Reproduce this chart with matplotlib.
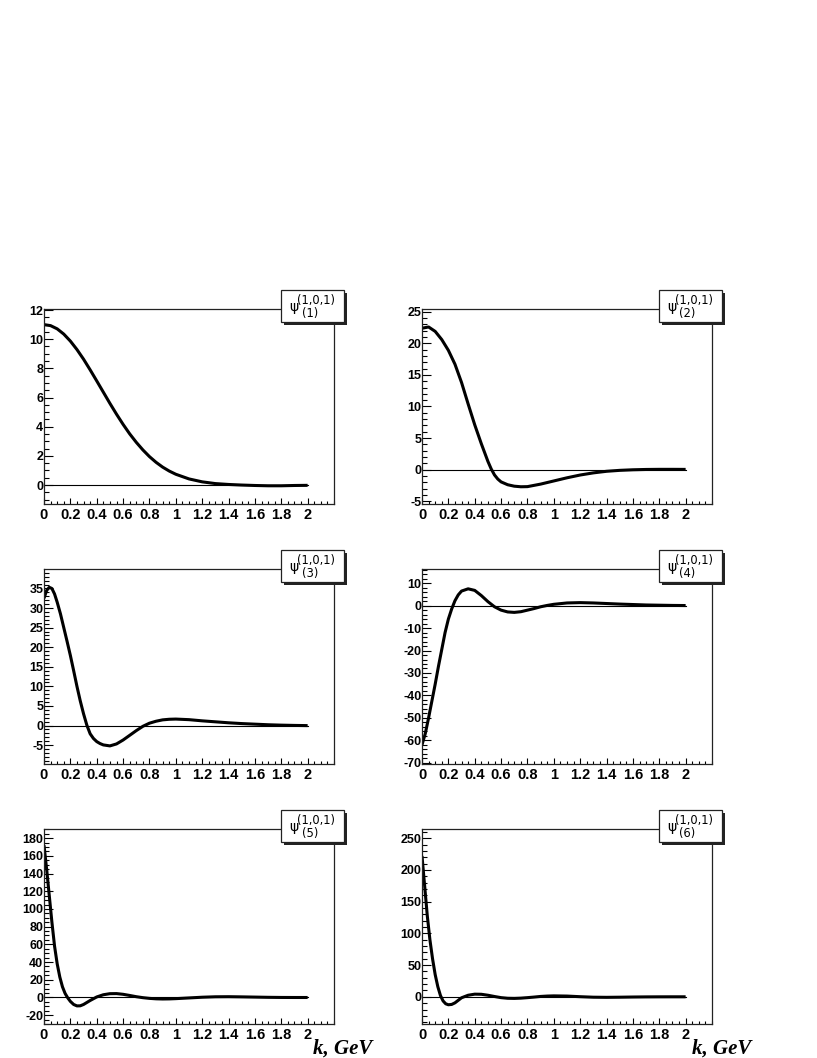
import numpy as np
import matplotlib
matplotlib.use("Agg")
import matplotlib.pyplot as plt
from matplotlib.patches import Rectangle
from matplotlib.ticker import MultipleLocator, FixedLocator, FormatStrFormatter

# psi^(1,0,1)_(n)(k), values
k1 = [0, 0.05, 0.1, 0.15, 0.2, 0.25, 0.3, 0.35, 0.4, 0.45, 0.5, 0.55, 0.6, 0.65,
      0.7, 0.75, 0.8, 0.85, 0.9, 0.95, 1.0, 1.1, 1.2, 1.3, 1.4, 1.5, 1.6, 1.7,
      1.8, 1.9, 2.0]
psi1 = [11.0, 10.93, 10.71, 10.35, 9.87, 9.29, 8.63, 7.90, 7.14, 6.37, 5.60,
        4.86, 4.16, 3.51, 2.93, 2.41, 1.95, 1.56, 1.23, 0.96, 0.74, 0.42, 0.22,
        0.10, 0.04, 0.0, -0.03, -0.05, -0.05, -0.03, -0.02]

k2 = [0, 0.05, 0.1, 0.15, 0.2, 0.25, 0.3, 0.35, 0.4, 0.45, 0.5, 0.525, 0.55,
      0.575, 0.6, 0.65, 0.7, 0.75, 0.8, 0.9, 1.0, 1.1, 1.2, 1.3, 1.4, 1.5, 1.6,
      1.7, 1.8, 1.9, 2.0]
psi2 = [22.4, 22.6, 21.9, 20.6, 18.9, 16.7, 13.8, 10.4, 7.1, 4.1, 1.3, 0.1,
        -0.85, -1.5, -1.95, -2.4, -2.63, -2.72, -2.7, -2.3, -1.8, -1.3, -0.86,
        -0.52, -0.27, -0.12, -0.03, 0.02, 0.04, 0.04, 0.03]

k3 = [0, 0.02, 0.04, 0.06, 0.08, 0.1, 0.125, 0.15, 0.175, 0.2, 0.225, 0.25,
      0.275, 0.3, 0.325, 0.35, 0.375, 0.4, 0.425, 0.45, 0.5, 0.55, 0.6, 0.65,
      0.7, 0.75, 0.8, 0.85, 0.9, 0.95, 1.0, 1.1, 1.2, 1.3, 1.4, 1.5, 1.6, 1.7,
      1.8, 1.9, 2.0]
psi3 = [32.5, 34.5, 35.3, 35.0, 33.6, 31.5, 28.5, 25.0, 21.5, 17.9, 14.0, 10.0,
        6.3, 3.0, 0.1, -2.1, -3.3, -4.1, -4.6, -4.95, -5.2, -4.7, -3.7, -2.5,
        -1.3, -0.2, 0.6, 1.1, 1.45, 1.6, 1.65, 1.5, 1.2, 0.95, 0.7, 0.5, 0.35,
        0.2, 0.1, 0.03, -0.02]

k4 = [0, 0.025, 0.05, 0.075, 0.1, 0.125, 0.15, 0.175, 0.2, 0.225, 0.25, 0.275,
      0.3, 0.35, 0.4, 0.45, 0.5, 0.55, 0.6, 0.65, 0.7, 0.75, 0.8, 0.85, 0.9,
      0.95, 1.0, 1.1, 1.2, 1.3, 1.4, 1.5, 1.6, 1.7, 1.8, 1.9, 2.0]
psi4 = [-62, -57, -50, -42.5, -35, -27, -19.5, -12, -6, -1.5, 2.2, 4.8, 6.5,
        7.5, 6.8, 4.5, 1.8, -0.5, -2.0, -2.8, -3.0, -2.7, -2.0, -1.3, -0.5, 0.1,
        0.6, 1.2, 1.35, 1.2, 0.95, 0.7, 0.5, 0.3, 0.2, 0.1, 0.05]

k5 = [0, 0.02, 0.04, 0.06, 0.08, 0.1, 0.12, 0.14, 0.16, 0.18, 0.2, 0.225, 0.25,
      0.275, 0.3, 0.35, 0.4, 0.45, 0.5, 0.55, 0.6, 0.65, 0.7, 0.75, 0.8, 0.85,
      0.9, 0.95, 1.0, 1.1, 1.2, 1.3, 1.4, 1.5, 1.6, 1.7, 1.8, 1.9, 2.0]
psi5 = [172, 145, 115, 85, 58, 38, 23, 12, 4.5, -0.5, -4.5, -8, -9.6, -9.5, -8,
        -3.5, 0.5, 3.0, 4.2, 4.3, 3.5, 2.2, 0.8, -0.3, -1.1, -1.6, -1.8, -1.7,
        -1.4, -0.6, 0.2, 0.7, 0.8, 0.6, 0.35, 0.1, -0.05, -0.1, -0.1]

k6 = [0, 0.02, 0.04, 0.06, 0.08, 0.1, 0.12, 0.14, 0.16, 0.18, 0.2, 0.225, 0.25,
      0.275, 0.3, 0.35, 0.4, 0.45, 0.5, 0.55, 0.6, 0.65, 0.7, 0.75, 0.8, 0.85,
      0.9, 0.95, 1.0, 1.1, 1.2, 1.3, 1.4, 1.5, 1.6, 1.7, 1.8, 1.9, 2.0]
psi6 = [222, 175, 128, 90, 60, 35, 16, 2, -6.5, -11, -12.5, -12, -9.5, -5.5,
        -1.5, 2.5, 4.2, 4.0, 2.5, 0.5, -1.3, -2.3, -2.5, -2.1, -1.3, -0.4, 0.6,
        1.2, 1.5, 1.2, 0.2, -0.6, -0.8, -0.6, -0.3, -0.1, 0.0, 0.05, 0.05]

labels = ["(1)", "(2)", "(3)", "(4)", "(5)", "(6)"]
x_ticks = [0, 0.2, 0.4, 0.6, 0.8, 1, 1.2, 1.4, 1.6, 1.8, 2]

W, H = 817, 1058


def fx(x):
    return x / W


def fy(y):
    return 1 - y / H


fig = plt.figure(figsize=(W / 100, H / 100), dpi=100)

# (k, psi, ymin, ymax, major, minor)
panels = [
    (k1, psi1, -1.32, 12.05, 2, 0.5),
    (k2, psi2, -5.5, 25.4, 5, 1),
    (k3, psi3, -9.9, 39.9, 5, 1),
    (k4, psi4, -70.7, 16.2, 10, 2),
    (k5, psi5, -30.4, 190, 20, 5),
    (k6, psi6, -43.3, 264, 50, 10),
]

for i, (k, psi, ymin, ymax, major, minor) in enumerate(panels):
    row, col = i // 2, i % 2
    left = 44 if col == 0 else 422
    top = 309.3 + 260 * row
    ax = fig.add_axes([fx(left), fy(top + 195), fx(290), 195 / H])

    ax.plot([0, 2], [0, 0], color="k", lw=0.8)
    ax.plot(k, psi, color="k", lw=2.2, solid_capstyle="butt",
            solid_joinstyle="round")

    ax.set_xlim(0, 2.2)
    ax.set_ylim(ymin, ymax)
    ax.xaxis.set_major_locator(FixedLocator(x_ticks))
    ax.xaxis.set_minor_locator(MultipleLocator(0.05))
    ax.xaxis.set_major_formatter(FormatStrFormatter("%g"))
    ax.yaxis.set_major_locator(MultipleLocator(major))
    ax.yaxis.set_minor_locator(MultipleLocator(minor))
    ax.yaxis.set_major_formatter(FormatStrFormatter("%g"))

    ax.tick_params(axis="x", which="major", direction="in", length=4.2, width=0.8,
                   pad=2.5, labelsize=10.5)
    ax.tick_params(axis="x", which="minor", direction="in", length=2.1, width=0.8)
    ax.tick_params(axis="y", which="major", direction="in", length=6.5, width=0.8,
                   pad=0.5, labelsize=9)
    ax.tick_params(axis="y", which="minor", direction="in", length=3.3, width=0.8)
    for lab in ax.get_xticklabels() + ax.get_yticklabels():
        lab.set_fontfamily("Liberation Sans")
        lab.set_fontweight("bold")
    for sp in ax.spines.values():
        sp.set_linewidth(0.9)
        sp.set_color("#222222")

    # legend box with shadow, ROOT style
    bl = 281 if col == 0 else 658.5
    bt = 290 + 260 * row
    bw, bh = 63, 32
    fig.patches.append(Rectangle((fx(bl + 3), fy(bt + bh + 3)), fx(bw), bh / H,
                                 transform=fig.transFigure, facecolor="#222222",
                                 edgecolor="none", zorder=5))
    fig.patches.append(Rectangle((fx(bl), fy(bt + bh)), fx(bw), bh / H,
                                 transform=fig.transFigure, facecolor="white",
                                 edgecolor="#222222", lw=0.9, zorder=6))
    fig.text(fx(bl + 8.5), fy(bt + 17), "ψ", fontsize=10, family="DejaVu Sans",
             ha="left", va="center", zorder=7)
    fig.text(fx(bl + 16), fy(bt + 10.5), "(1,0,1)", fontsize=8.3,
             family="DejaVu Sans", ha="left", va="center", zorder=7)
    fig.text(fx(bl + 21), fy(bt + 23.5), labels[i], fontsize=8.3,
             family="DejaVu Sans", ha="left", va="center", zorder=7)

# axis titles under the bottom row
for xl in (313, 692):
    fig.text(fx(xl), fy(1054), "k, GeV", fontsize=15, family="Liberation Serif",
             fontweight="bold", fontstyle="italic", ha="left", va="baseline")

fig.savefig("out.png", dpi=100)
